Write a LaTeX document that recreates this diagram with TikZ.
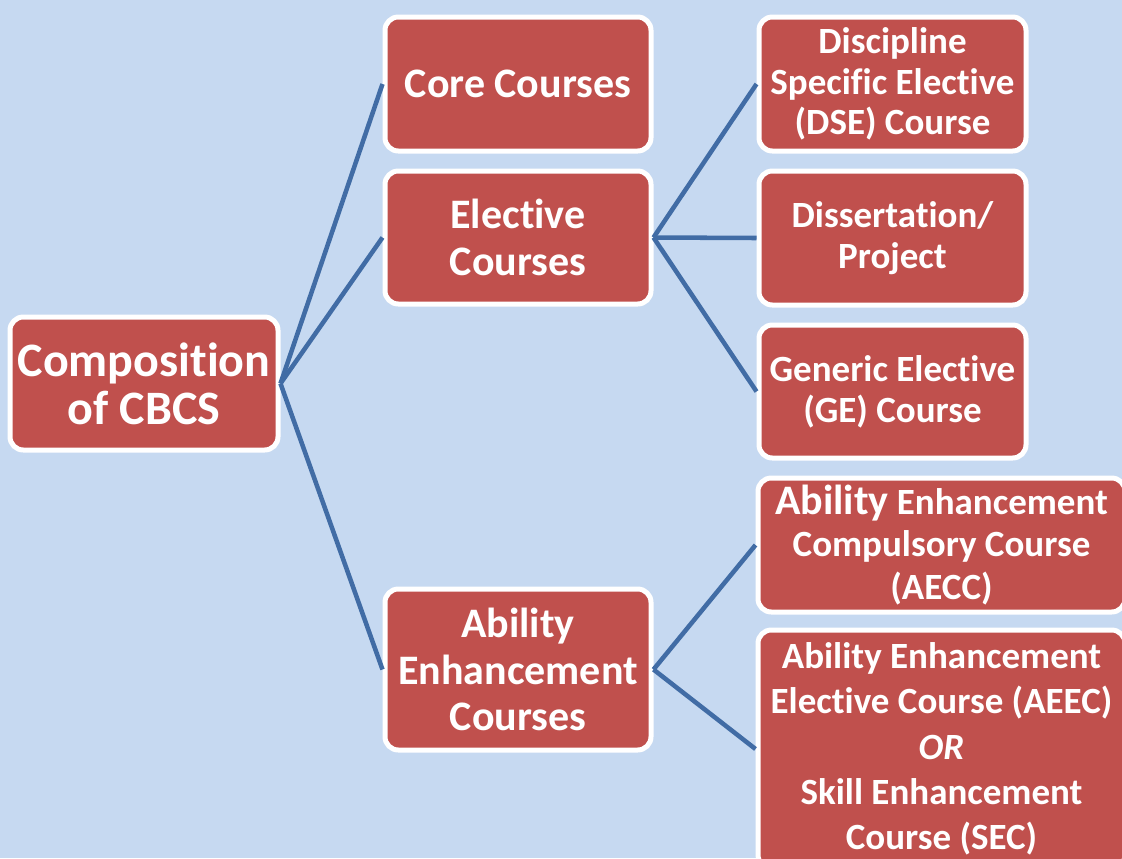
\documentclass[tikz,border=0pt]{standalone}
\usepackage{fontspec}
\setmainfont{Carlito}[RawFeature={-liga;-clig;-calt;-dlig;-rlig}]
\definecolor{bgblue}{HTML}{C6D9F1}
\definecolor{boxred}{HTML}{C0504D}
\definecolor{linkblue}{HTML}{416CA5}
\tikzset{
  cbox/.style={draw=white, line width=3.75pt, fill=boxred, rounded corners=10pt,
    text=white, align=center, inner sep=0pt},
  link/.style={draw=linkblue, line width=3.4pt},
  fa/.style={font=\bfseries\fontsize{36}{36}\selectfont},
  fb/.style={font=\bfseries\fontsize{31.5}{35}\selectfont},
  fc/.style={font=\bfseries\fontsize{27.75}{30.5}\selectfont},
}
\begin{document}
\begin{tikzpicture}[x=0.75pt,y=-0.75pt]
\fill[bgblue] (0,0) rectangle (1122,858);
\useasboundingbox (0,0) rectangle (1122,858);
\node[cbox, fa, minimum width=201pt, minimum height=99.75pt] (root) at (144,383.5) {Composition\\of CBCS};
\node[cbox, fb, minimum width=199.5pt, minimum height=100.5pt] (core) at (518,84) {Core Courses};
\node[cbox, fb, minimum width=199.5pt, minimum height=99.75pt] (elec) at (518,237.5) {Elective\\Courses};
\node[cbox, fb, minimum width=199.5pt, minimum height=120.75pt] (abil) at (518,669.5) {Ability\\Enhancement\\Courses};
\node[cbox, fc, minimum width=200.25pt, minimum height=100.5pt] (dse) at (892.5,84) {Discipline\\Specific Elective\\(DSE) Course};
\node[cbox, fc, minimum width=200.25pt, minimum height=100.5pt] (diss) at (892.5,238) {Dissertation/\\Project};
\node[cbox, fc, minimum width=200.25pt, minimum height=99.75pt] (ge) at (892.5,391.5) {Generic Elective\\(GE) Course};
\node[cbox, font=\bfseries\fontsize{27.75}{32}\selectfont, minimum width=275.25pt, minimum height=100.5pt] (aecc) at (941.5,545)
  {{\fontsize{31.5}{32}\selectfont Ability} Enhancement\\Compulsory Course\\(AECC)};
\node[cbox, font=\bfseries\fontsize{27.75}{34}\selectfont, minimum width=275.25pt, minimum height=178.5pt] (aeec) at (941.5,749)
  {Ability Enhancement\\Elective Course (AEEC)\\\textit{OR}\\Skill Enhancement\\Course (SEC)};
\draw[link] (root.east) -- (core.west);
\draw[link] (root.east) -- (elec.west);
\draw[link] (root.east) -- (abil.west);
\draw[link] (elec.east) -- (dse.west);
\draw[link] (elec.east) -- (diss.west);
\draw[link] (elec.east) -- (ge.west);
\draw[link] (abil.east) -- (aecc.west);
\draw[link] (abil.east) -- (aeec.west);
\end{tikzpicture}
\end{document}
